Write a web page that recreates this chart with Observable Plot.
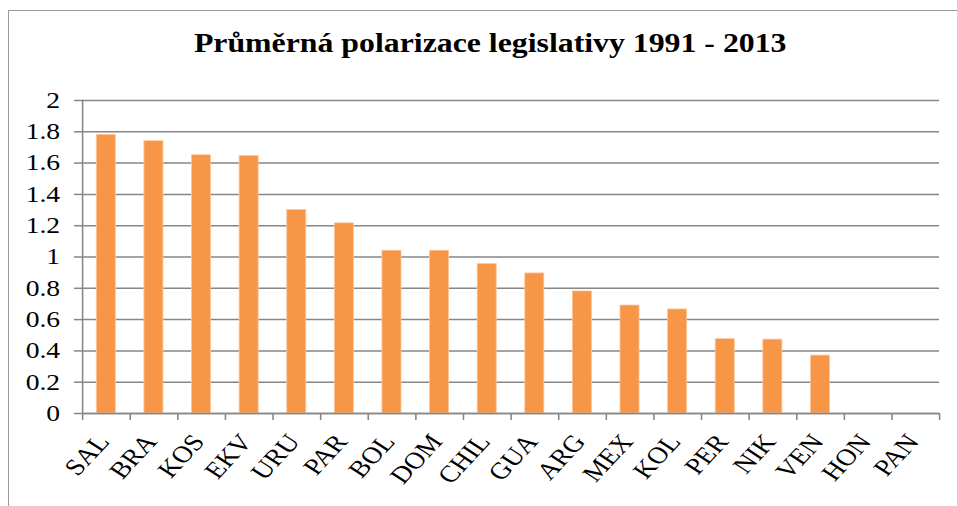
<!DOCTYPE html>
<html>
<head>
<meta charset="utf-8">
<script src="https://cdn.jsdelivr.net/npm/d3@7"></script>
<script src="https://cdn.jsdelivr.net/npm/@observablehq/plot@0.6"></script>
<style>
  html, body { margin: 0; padding: 0; background: #fff; }
  #wrap { position: relative; width: 957px; height: 506px; overflow: hidden; }
  #frame { position: absolute; left: 8px; top: 10px; width: 1000px; height: 600px;
           border-left: 1.5px solid #9a9a9a; border-top: 1.5px solid #9a9a9a; box-sizing: border-box; }
  #stretch { position: absolute; left: 0; top: 0; width: 797.5px; height: 506px;
             transform: scaleX(1.2); transform-origin: 0 0; }
  #title { position: absolute; left: 0; top: 28px; width: 817px; text-align: center;
           font-family: 'Liberation Serif', 'Times New Roman', serif; font-weight: bold;
           font-size: 26.5px; color: #000; line-height: 30px; white-space: nowrap; }
  #chart { position: absolute; left: 0; top: 80px; }
  #chart svg text { font-family: 'Liberation Serif', 'Times New Roman', serif; fill: #000; }
</style>
</head>
<body>
<div id="wrap">
  <div id="frame"></div>
  <div id="stretch">
    <div id="title">Průměrná polarizace legislativy 1991 - 2013</div>
    <div id="chart"></div>
  </div>
</div>
<script>
const countries = ["SAL","BRA","KOS","EKV","URU","PAR","BOL","DOM","CHIL","GUA","ARG","MEX","KOL","PER","NIK","VEN","HON","PAN"];
const polarization = [1.78,1.74,1.65,1.645,1.30,1.215,1.04,1.04,0.955,0.895,0.78,0.69,0.665,0.475,0.472,0.37,0,0];
const yTicks = [0,0.2,0.4,0.6,0.8,1,1.2,1.4,1.6,1.8,2];
const yTickLabels = ["0","0.2","0.4","0.6","0.8","1","1.2","1.4","1.6","1.8","2"];

const data = countries.map((c, i) => ({country: c, value: polarization[i]}));

const S = 1.2;
const W = 957 / S, H = 426, mL = 82 / S, mR = 18 / S, mT = 20, mB = 93;
const bw = (W - mL - mR) / countries.length;
const grey = "#868686";
const font = "'Liberation Serif', 'Times New Roman', serif";

const chart = Plot.plot({
  width: W,
  height: H,
  marginLeft: mL,
  marginRight: mR,
  marginTop: mT,
  marginBottom: mB,
  style: {fontFamily: font, fontSize: "22px", color: "#000", background: "transparent", overflow: "visible"},
  x: {domain: countries, paddingInner: 0.6, paddingOuter: 0.3, align: 0.5, round: false},
  y: {domain: [0, 2]},
  marks: [
    Plot.gridY(yTicks, {stroke: grey, strokeOpacity: 1, strokeWidth: 1.5}),
    Plot.barY(data, {x: "country", y: "value", fill: "#F79646", stroke: "#FBC79E", strokeWidth: 0.7}),
    Plot.ruleY([0], {stroke: grey, strokeWidth: 1.5}),
    Plot.frame({anchor: "left", stroke: grey, strokeWidth: 1.3}),
    Plot.ruleX(countries, {x: d => d, y1: 0, y2: 0, dx: -bw / 2, insetBottom: -7, stroke: grey, strokeWidth: 1.3}),
    Plot.ruleX([countries[countries.length - 1]], {x: d => d, y1: 0, y2: 0, dx: bw / 2, insetBottom: -7, stroke: grey, strokeWidth: 1.3}),
    Plot.axisY(yTicks, {tickFormat: (d) => yTickLabels[yTicks.indexOf(d)], tickSize: 6.7, tickPadding: 12, stroke: grey, strokeWidth: 1.5, fill: "#000", label: null, fontSize: 23, className: "ylab"}),
    Plot.axisX({tickSize: 0, tickRotate: -52, tickPadding: 24, dx: -2.5, label: null, fill: "#000", fontSize: 23.5})
  ]
});
document.getElementById("chart").appendChild(chart);
d3.select(chart).selectAll('g[aria-label="y-axis tick label"] text')
  .style("font-size", "23px")
  .style("font-family", font);
</script>
</body>
</html>
